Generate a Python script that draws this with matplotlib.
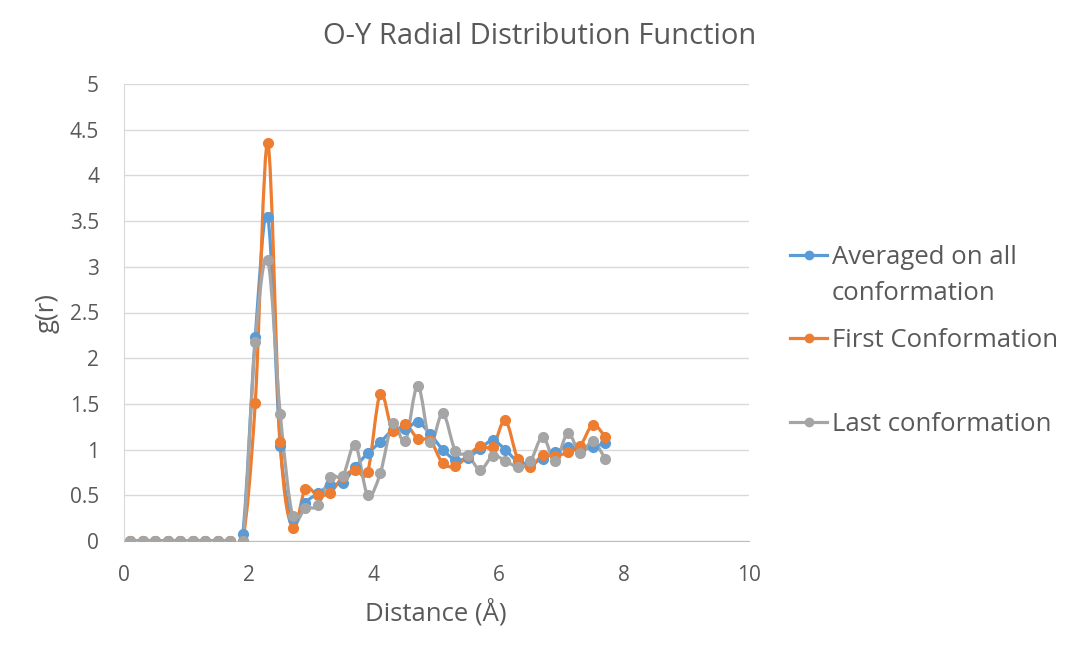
import matplotlib
matplotlib.use("Agg")
import matplotlib.pyplot as plt
import numpy as np
from matplotlib.path import Path
from matplotlib.patches import PathPatch
from matplotlib.lines import Line2D

plt.rcParams['font.family'] = ['Open Sans', 'DejaVu Sans']

# distance values (A)
dist = [0.1, 0.3, 0.5, 0.7, 0.9, 1.1, 1.3, 1.5, 1.7, 1.9,
        2.1, 2.3, 2.5, 2.7, 2.9, 3.1, 3.3, 3.5, 3.7, 3.9,
        4.1, 4.3, 4.5, 4.7, 4.9, 5.1, 5.3, 5.5, 5.7, 5.9,
        6.1, 6.3, 6.5, 6.7, 6.9, 7.1, 7.3, 7.5, 7.7]

g_avg = [0, 0, 0, 0, 0, 0, 0, 0, 0, 0.08,
         2.23, 3.55, 1.04, 0.24, 0.42, 0.52, 0.61, 0.64, 0.81, 0.96,
         1.08, 1.21, 1.22, 1.30, 1.17, 1.00, 0.89, 0.91, 1.01, 1.10,
         1.00, 0.87, 0.85, 0.90, 0.97, 1.03, 1.00, 1.03, 1.07]

g_first = [0, 0, 0, 0, 0, 0, 0, 0, 0, 0,
           1.51, 4.35, 1.08, 0.14, 0.57, 0.50, 0.53, 0.70, 0.78, 0.76,
           1.61, 1.20, 1.28, 1.12, 1.10, 0.85, 0.82, 0.93, 1.04, 1.03,
           1.32, 0.90, 0.81, 0.94, 0.93, 0.97, 1.04, 1.27, 1.14]

g_last = [0, 0, 0, 0, 0, 0, 0, 0, 0, 0,
          2.18, 3.07, 1.39, 0.27, 0.36, 0.39, 0.70, 0.71, 1.05, 0.50,
          0.74, 1.29, 1.09, 1.70, 1.08, 1.40, 0.99, 0.94, 0.78, 0.93,
          0.88, 0.81, 0.87, 1.14, 0.87, 1.18, 0.96, 1.09, 0.90]

labels = ['Averaged on all\nconformation', 'First Conformation', 'Last conformation']
colors = ['#5B9BD5', '#ED7D31', '#A5A5A5']
txt = '#595959'


def smooth_path(x, y):
    # excel style smoothed line: catmull-rom drawn as cubic bezier
    p = np.column_stack([x, y]).astype(float)
    verts = [p[0]]
    codes = [Path.MOVETO]
    n = len(p)
    for i in range(n - 1):
        p0 = p[i - 1] if i > 0 else p[i]
        p3 = p[i + 2] if i + 2 < n else p[i + 1]
        c1 = p[i] + (p[i + 1] - p0) / 6.0
        c2 = p[i + 1] - (p3 - p[i]) / 6.0
        verts += [c1, c2, p[i + 1]]
        codes += [Path.CURVE4] * 3
    return Path(verts, codes)


W, H = 1080, 656
fig = plt.figure(figsize=(10.8, 6.56), dpi=100)
ax = fig.add_axes([124 / W, 1 - 541 / H, 625 / W, 457 / H])

for ys, c in zip([g_avg, g_first, g_last], colors):
    ax.add_patch(PathPatch(smooth_path(dist, ys), facecolor='none',
                           edgecolor=c, lw=2.3, zorder=3))
    ax.plot(dist, ys, linestyle='none', marker='o', markersize=7,
            color=c, zorder=4)

ax.set_xlim(0, 10)
ax.set_ylim(0, 5)
ax.set_xticks([0, 2, 4, 6, 8, 10])
ax.set_yticks(np.arange(0, 5.01, 0.5))
ax.set_yticklabels(['0', '0.5', '1', '1.5', '2', '2.5', '3', '3.5', '4', '4.5', '5'])
ax.grid(axis='y', color='#D9D9D9', lw=1)
ax.set_axisbelow(True)
for s in ['top', 'right']:
    ax.spines[s].set_visible(False)
ax.spines['left'].set_color('#D9D9D9')
ax.spines['bottom'].set_color('#BFBFBF')
ax.tick_params(length=0, labelsize=15, colors=txt)
ax.tick_params(axis='x', pad=17)
ax.tick_params(axis='y', pad=18)

fig.text(436 / W, 1 - 613 / H, 'Distance (Å)', fontsize=18.5, color=txt,
         ha='center', va='center')
fig.text(47 / W, 1 - 313 / H, 'g(r)', fontsize=18.5, color=txt,
         ha='center', va='center', rotation=90)
fig.text(540 / W, 1 - 37 / H, 'O-Y Radial Distribution Function',
         fontsize=21, color=txt, ha='center', va='center')

# legend, laid out like the excel one
leg_y = [255, 338, 422]
for lab, c, yy in zip(labels, colors, leg_y):
    fig.add_artist(Line2D([790 / W, 827 / W], [1 - yy / H, 1 - yy / H],
                          color=c, lw=2.3))
    fig.add_artist(Line2D([808.5 / W], [1 - yy / H], color=c, marker='o',
                          markersize=6))
    fig.text(832 / W, 1 - (yy - 10) / H, lab, fontsize=18.5, color=txt,
             ha='left', va='top', linespacing=1.6)

fig.savefig('out.png', dpi=100)
